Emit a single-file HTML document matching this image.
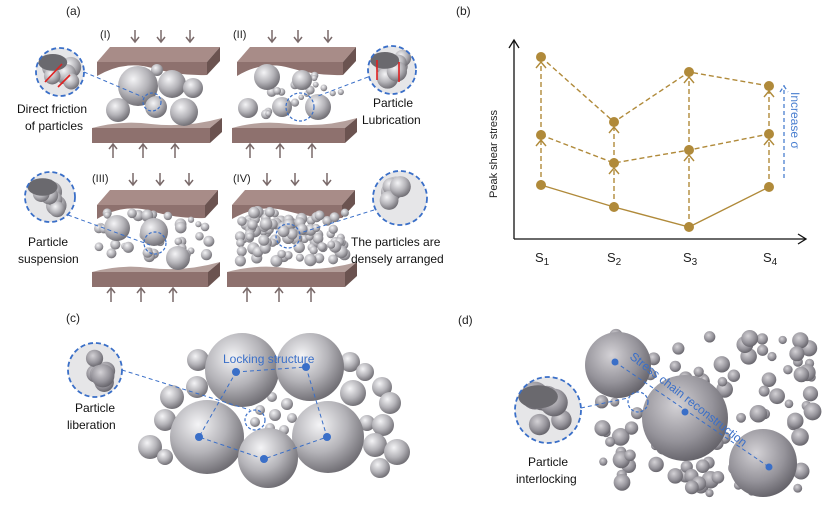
<!DOCTYPE html>
<html><head><meta charset="utf-8"><style>
html,body{margin:0;padding:0;background:#fff;}
svg{display:block;font-family:"Liberation Sans",Arial,sans-serif;}
</style></head><body>
<svg id="s" width="824" height="505" viewBox="0 0 824 505" xmlns="http://www.w3.org/2000/svg">
<defs>
<radialGradient id="g" cx="0.38" cy="0.33" r="0.7">
<stop offset="0" stop-color="#f4f4f6"/><stop offset="0.55" stop-color="#b4b3b8"/><stop offset="1" stop-color="#6e6c72"/>
</radialGradient>
<radialGradient id="gd" cx="0.4" cy="0.35" r="0.7">
<stop offset="0" stop-color="#d4d2d6"/><stop offset="0.6" stop-color="#95939a"/><stop offset="1" stop-color="#5f5d64"/>
</radialGradient>
</defs>
<g font-size="12" fill="#222">
<text x="66" y="15">(a)</text><text x="456" y="15">(b)</text>
<text x="66" y="322">(c)</text><text x="458" y="324">(d)</text>
</g>
<g id="plates"></g>
<g id="balls"></g>
<!-- panel b -->
<g stroke="#111" stroke-width="1.3" fill="none">
<path d="M514,239 V40"/><path d="M509,48 L514,40 L519,48"/>
<path d="M514,239 H806"/><path d="M798,234 L806,239 L798,244"/>
</g>
<text transform="translate(497,198) rotate(-90)" font-size="11" fill="#222">Peak shear stress</text>
<g font-size="13" fill="#222">
<text x="535" y="262">S<tspan font-size="10" dy="3">1</tspan></text>
<text x="607" y="262">S<tspan font-size="10" dy="3">2</tspan></text>
<text x="683" y="262">S<tspan font-size="10" dy="3">3</tspan></text>
<text x="763" y="262">S<tspan font-size="10" dy="3">4</tspan></text>
</g>
<g stroke="#b08a3a" stroke-width="1.4" fill="none">
<polyline points="541,185 614,207 689,227 769,187"/>
<g stroke-dasharray="5,3">
<polyline points="541,135 614,163 689,150 769,134"/>
<polyline points="541,57 614,122 689,72 769,86"/>
<path d="M541,185V141 M541,135V63 M614,207V169 M614,163V128 M689,227V156 M689,150V78 M769,187V140 M769,134V92"/>
</g>
<path d="M536,146 l5,-6 5,6 M536,68 l5,-6 5,6 M609,174 l5,-6 5,6 M609,133 l5,-6 5,6 M684,161 l5,-6 5,6 M684,83 l5,-6 5,6 M764,145 l5,-6 5,6 M764,97 l5,-6 5,6"/>
</g>
<g fill="#b08a3a">
<circle cx="541" cy="185" r="5"/><circle cx="614" cy="207" r="5"/><circle cx="689" cy="227" r="5"/><circle cx="769" cy="187" r="5"/>
<circle cx="541" cy="135" r="5"/><circle cx="614" cy="163" r="5"/><circle cx="689" cy="150" r="5"/><circle cx="769" cy="134" r="5"/>
<circle cx="541" cy="57" r="5"/><circle cx="614" cy="122" r="5"/><circle cx="689" cy="72" r="5"/><circle cx="769" cy="86" r="5"/>
</g>
<path d="M784,178 V85 M780,92 l4,-6 4,6" stroke="#4a7fd0" stroke-width="1.3" stroke-dasharray="4,3" fill="none"/>
<text transform="translate(791,92) rotate(90)" font-size="12" fill="#4a7fd0">Increase σ</text>
<g id="top"></g>
</svg>
<script>
const NS="http://www.w3.org/2000/svg";
function el(p,t,a,txt){const e=document.createElementNS(NS,t);for(const k in a)e.setAttribute(k,a[k]);if(txt)e.textContent=txt;document.getElementById(p).appendChild(e);return e;}
let seed=7;function rnd(){seed=(seed*9301+49297)%233280;return seed/233280;}
function ball(x,y,r,p,f){el(p||"balls","circle",{cx:x,cy:y,r:r,fill:f||"url(#g)"});}
function arrow(x,y1,y2){const d=y2>y1?-5:5;el("plates","path",{d:`M${x},${y1} V${y2} M${x-4},${y2+d} L${x},${y2} L${x+4},${y2+d}`,stroke:"#7a6a6a","stroke-width":1.5,fill:"none"});}
function plates(tx0,tx1,ty,bx0,bx1,by,da,ua){
 // top plate
 el("plates","path",{d:`M${tx0},${ty+15} L${tx0+13},${ty} L${tx1+13},${ty} L${tx1},${ty+15} Z`,fill:"#a88c88"});
 const w=tx1-tx0;
 el("plates","path",{d:`M${tx0},${ty+15} L${tx1},${ty+15} L${tx1},${ty+28} Q${tx0+w*0.75},${ty+29} ${tx0+w*0.5},${ty+21} Q${tx0+w*0.25},${ty+13} ${tx0},${ty+29} Z`,fill:"#8e716e"});
 el("plates","path",{d:`M${tx1},${ty+15} L${tx1+13},${ty} L${tx1+13},${ty+14} L${tx1},${ty+28} Z`,fill:"#6b5350"});
 // bottom plate
 const bw=bx1-bx0;
 el("plates","path",{d:`M${bx0},${by+10} Q${bx0+bw*0.25},${by+2} ${bx0+bw*0.5},${by+6} Q${bx0+bw*0.8},${by+10} ${bx1+12},${by} L${bx1},${by+10} Z`,fill:"#b5a09c"});
 el("plates","path",{d:`M${bx0},${by+10} L${bx1},${by+10} L${bx1},${by+25} L${bx0},${by+25} Z`,fill:"#8e716e"});
 el("plates","path",{d:`M${bx1},${by+10} L${bx1+12},${by} L${bx1+12},${by+14} L${bx1},${by+25} Z`,fill:"#6b5350"});
 da.forEach(x=>arrow(x,ty-17,ty-5)); ua.forEach(x=>arrow(x,by+40,by+26));
}
plates(97,207,47,92,210,118,[135,161,190],[113,143,175]);
plates(237,343,47,232,345,118,[272,298,328],[250,280,312]);
plates(97,205,190,92,208,262,[133,160,189],[111,141,173]);
plates(232,342,190,227,345,262,[267,295,327],[247,279,311]);
const t=[["(I)",100,38],["(II)",233,38],["(III)",92,182],["(IV)",233,182]];
t.forEach(a=>el("top","text",{x:a[1],y:a[2],"font-size":11,fill:"#222"},a[0]));
// panel I
[[157,70,6],[138,86,20],[172,84,14],[193,88,10],[118,110,12],[156,107,11],[184,112,14]].forEach(b=>ball(...b));
// panel II
for(let i=0;i<20;i++)ball(262+rnd()*80,72+rnd()*45,2.5+rnd()*2.5);
[[267,77,13],[302,80,10],[248,108,10],[282,107,10],[318,107,13]].forEach(b=>ball(...b));
// panel III
for(let i=0;i<45;i++)ball(98+rnd()*112,212+rnd()*46,3+rnd()*3);
[[117,228,13],[154,232,14],[178,258,12]].forEach(b=>ball(...b));
// panel IV
for(let i=0;i<95;i++)ball(240+rnd()*105,212+rnd()*50,4+rnd()*2.5);
function inset(cx,cy,r,dark,f){el("balls","circle",{cx,cy,r,fill:"#e6e6e8"});
 for(let i=0;i<6;i++){ball(cx-r*0.5+rnd()*r,cy-r*0.5+rnd()*r,r*0.3+rnd()*r*0.15,"balls",f);}
 if(dark)el("balls","ellipse",{cx:cx-r*0.3,cy:cy-r*0.4,rx:r*0.6,ry:r*0.35,fill:"#6a696e"});
 el("balls","circle",{cx,cy,r,fill:"none",stroke:"#3a6fc8","stroke-width":1.8,"stroke-dasharray":"5,3"});}
inset(60,72,24,true);inset(392,70,24,true);inset(50,197,25,true);inset(400,198,27,false);
el("balls","path",{d:"M45,82 L62,64 M70,75 L58,87",stroke:"#e02020","stroke-width":1.6,fill:"none"});
el("balls","path",{d:"M377,80 V60 M399,62 V82",stroke:"#e02020","stroke-width":1.6,fill:"none"});
[["M84,72 L143,97",152,102,9],["M368,77 L318,96",300,107,14],["M68,215 L150,245",155,243,11],["M374,210 L300,233",288,236,12]].forEach(a=>{
 el("balls","path",{d:a[0],stroke:"#3a6fc8","stroke-width":1,"stroke-dasharray":"4,3",fill:"none"});
 el("balls","circle",{cx:a[1],cy:a[2],r:a[3],stroke:"#3a6fc8","stroke-width":1.2,"stroke-dasharray":"3,2",fill:"none"});});
[["Direct friction",17,113],["of particles",25,130],["Particle",373,107],["Lubrication",362,124],["Particle",28,246],["suspension",18,263],["The particles are",351,246],["densely arranged",351,263]].forEach(a=>el("top","text",{x:a[1],y:a[2],"font-size":12,fill:"#111"},a[0]));
// panel c
[[198,360,11],[197,387,11],[172,397,12],[165,420,11],[150,447,12],[165,457,8],[350,362,10],[365,372,9],[353,393,13],[382,387,10],[390,403,11],[367,423,8],[383,425,11],[375,445,12],[397,452,13],[380,468,10]].forEach(b=>ball(...b));
[[272,397,5],[287,404,6],[260,410,5],[275,415,6],[292,418,5],[255,422,5],[270,428,5],[284,430,5]].forEach(b=>ball(...b));
[[242,370,37],[310,367,34],[207,437,37],[328,437,36],[268,458,30]].forEach(b=>ball(...b));
el("top","path",{d:"M236,372 L306,367 L327,437 L264,459 L199,437 Z",stroke:"#3a6fc8","stroke-width":1,"stroke-dasharray":"4,3",fill:"none"});
[[236,372],[306,367],[199,437],[327,437],[264,459]].forEach(p=>el("top","circle",{cx:p[0],cy:p[1],r:4,fill:"#3a6fc8"}));
el("top","text",{x:223,y:363,"font-size":12,fill:"#3a6fc8"},"Locking structure");
el("top","circle",{cx:255,cy:420,r:10,stroke:"#3a6fc8","stroke-width":1.2,"stroke-dasharray":"3,2",fill:"none"});
inset(95,370,27,false,"url(#gd)");
el("top","path",{d:"M122,370 L250,410",stroke:"#3a6fc8","stroke-width":1,"stroke-dasharray":"4,3",fill:"none"});
el("top","text",{x:75,y:412,"font-size":12,fill:"#111"},"Particle");el("top","text",{x:67,y:429,"font-size":12,fill:"#111"},"liberation");
// panel d
for(let i=0;i<110;i++){const x=600+rnd()*215,y=335+rnd()*160;ball(x,y,4+rnd()*5,"balls","url(#gd)");}
[[618,365,33],[685,418,43],[763,463,34]].forEach(b=>ball(b[0],b[1],b[2],"balls","url(#gd)"));
el("top","path",{d:"M615,362 L769,467",stroke:"#3a6fc8","stroke-width":1,"stroke-dasharray":"4,3",fill:"none"});
[[615,362],[685,412],[769,467]].forEach(p=>el("top","circle",{cx:p[0],cy:p[1],r:3.5,fill:"#3a6fc8"}));
el("top","text",{transform:"translate(629,358) rotate(38)","font-size":12,fill:"#3a6fc8"},"Stress chain reconstruction");
el("top","circle",{cx:638,cy:402,r:10,stroke:"#3a6fc8","stroke-width":1.2,"stroke-dasharray":"3,2",fill:"none"});
inset(548,410,33,true,"url(#gd)");
el("top","path",{d:"M581,408 L628,398",stroke:"#3a6fc8","stroke-width":1,"stroke-dasharray":"4,3",fill:"none"});
el("top","text",{x:528,y:466,"font-size":12,fill:"#111"},"Particle");el("top","text",{x:516,y:483,"font-size":12,fill:"#111"},"interlocking");
</script>
</body></html>
